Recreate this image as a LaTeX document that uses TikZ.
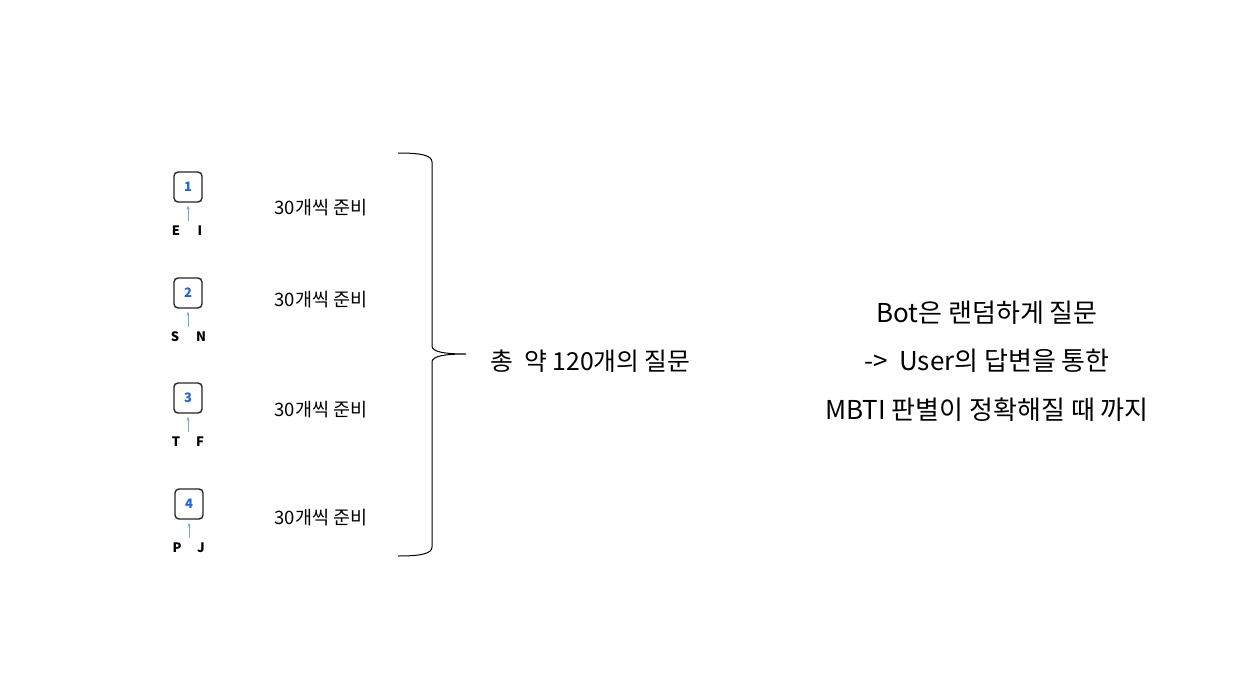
\documentclass[tikz,border=0pt]{standalone}
\usepackage{fontspec}
\setmainfont{Noto Sans CJK KR}
\usetikzlibrary{arrows.meta}
\definecolor{numblue}{RGB}{30,100,225}
\definecolor{arrblue}{RGB}{120,160,230}
\begin{document}
\begin{tikzpicture}[x=1pt,y=-1pt,
  numbox/.style={draw=black!85,line width=1.4pt,rounded corners=4pt,minimum width=28pt,minimum height=30pt,inner sep=0pt,text=numblue,font=\fontsize{13}{14}\selectfont\bfseries},
  letter/.style={font=\fontsize{13}{14}\selectfont\bfseries,inner sep=0pt},
  prep/.style={font=\fontsize{18.5}{20}\selectfont,inner sep=0pt},
  uparrow/.style={draw=arrblue,line width=0.6pt,-{Stealth[length=4pt,width=3pt]}},
  bigtext/.style={font=\fontsize{26}{28}\selectfont,inner sep=0pt,align=center}]
\useasboundingbox (0,0) rectangle (1253,693);
\fill[white] (0,0) rectangle (1253,693);
% boxes
\node[numbox] (b1) at (188,187) {1};
\node[numbox] (b2) at (188,293) {2};
\node[numbox] (b3) at (188,398) {3};
\node[numbox] (b4) at (189,504) {4};
\coordinate (a1) at (188,221);
\coordinate (a2) at (188,327);
\coordinate (a3) at (188,432);
\coordinate (a4) at (189,538);
\draw[uparrow] (a1) -- ([yshift=-3pt]b1.south);
\draw[uparrow] (a2) -- ([yshift=-3pt]b2.south);
\draw[uparrow] (a3) -- ([yshift=-3pt]b3.south);
\draw[uparrow] (a4) -- ([yshift=-3pt]b4.south);
\node[letter] (e) at (176,231) {E};
\node[letter] (i) at (200,231) {I};
\node[letter] (s) at (175,337) {S};
\node[letter] (n) at (201,337) {N};
\node[letter] (t) at (176,442) {T};
\node[letter] (f) at (200,442) {F};
\node[letter] (p) at (177,548) {P};
\node[letter] (j) at (201,548) {J};
\node[prep] (l1) at (321,208) {30개씩 준비};
\node[prep] (l2) at (321,300) {30개씩 준비};
\node[prep] (l3) at (321,410) {30개씩 준비};
\node[prep] (l4) at (321,518) {30개씩 준비};
% brace
\coordinate (btop) at (398,153);
\coordinate (bbot) at (398,556);
\coordinate (btip) at (466,354);
\draw[line width=1pt] (btop) .. controls (420,153) and (432,155) .. (432,162) -- (432,346)
  .. controls (432,352) and (445,354) .. (btip)
  .. controls (445,354) and (432,356) .. (432,362) -- (432,547)
  .. controls (432,554) and (420,556) .. (bbot);
\node[bigtext,font=\fontsize{24.8}{27}\selectfont,anchor=west] (total) at (490,361) {총\ \ 약 120개의 질문};
\node[bigtext] (r1) at (987,313) {Bot은 랜덤하게 질문};
\node[bigtext] (r2) at (987,361) {->\ \ User의 답변을 통한};
\node[bigtext] (r3) at (987,410) {MBTI 판별이 정확해질 때 까지};
\end{tikzpicture}
\end{document}
